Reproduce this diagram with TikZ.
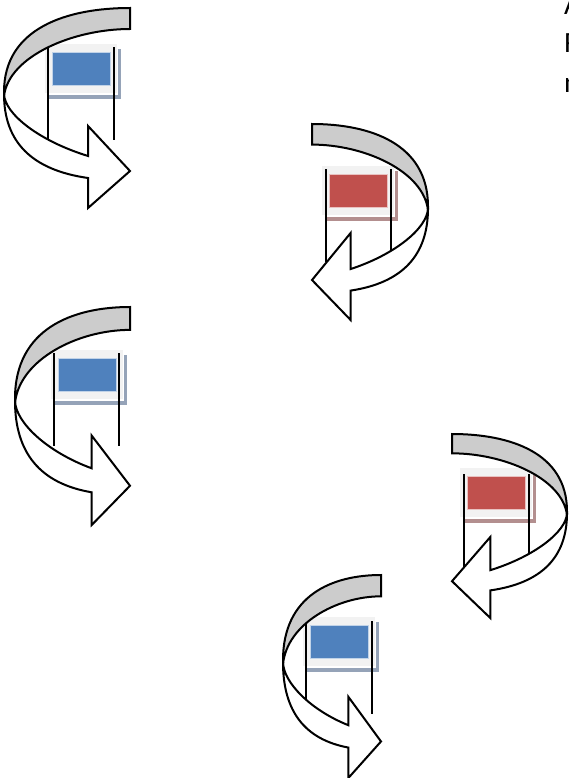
\documentclass[tikz,border=0pt]{standalone}
\usepackage{fontspec}
\setmainfont{Carlito}
\definecolor{bluefill}{HTML}{4F81BD}
\definecolor{redfill}{HTML}{C0504D}
\definecolor{blueshadow}{HTML}{95A3B8}
\definecolor{redshadow}{HTML}{B38F8F}
\definecolor{bandgray}{HTML}{CCCCCC}
\definecolor{glow}{HTML}{F2F2F2}
\tikzset{
  turnline/.style={draw=black,line width=1.5pt,line join=miter},
  postline/.style={draw=black,line width=1.4pt},
  clipped/.style={anchor=base west,inner sep=0pt,outer sep=0pt,font=\fontsize{22}{22}\selectfont},
}
% #1 shift x, #2 shift y, #3 signed width, #4 height, #5 neck top, #6 tip height
\newcommand{\turn}[6]{%
  \begin{scope}[shift={(#1,#2)},x=#3*.75pt,y=-#4*.75pt]
    \path[turnline,fill=white] (0,.43) .. controls (.005,.53) and (.28,.665) .. (.667,.74)
      -- (.667,#5) -- (1,#6) -- (.667,1) -- (.667,.85)
      .. controls (.22,.81) and (0,.67) .. (0,.43) -- cycle;
    \path[turnline,fill=bandgray] (1,0) .. controls (.5,0) and (0,.1) .. (0,.42)
      -- (0,.44) .. controls (.04,.24) and (.55,.105) .. (1,.105) -- cycle;
  \end{scope}}
% #1 left x of the fill, #2 top y, #3 fill colour, #4 shadow colour, #5 left post x, #6 right post x, #7 post top
\newcommand{\panel}[7]{%
  \begin{scope}[x=.75pt,y=-.75pt]
    \fill[#4] ({#1-4},{#2-3}) rectangle ({#1+69},{#2+47});
    \fill[white] ({#1-6},{#2-7}) rectangle ({#1+66},{#2+43});
    \fill[glow] ({#1-7},{#2-8}) rectangle ({#1+65},{#2+41});
    \path[fill=#3,draw=#3!35!white,line width=.6pt] (#1,#2) rectangle ({#1+58},{#2+33});
    \draw[postline] (#5,#7) -- (#5,{#7+93});
    \draw[postline] (#6,#7) -- (#6,{#7+93});
  \end{scope}}
\begin{document}
\begin{tikzpicture}[x=.75pt,y=-.75pt]
  \path[use as bounding box,fill=white] (0,0) rectangle (568,778);
  \clip (0,0) rectangle (568,778);
  \node[clipped] (la) at (564,14) {A};
  \node[clipped] (lb) at (564,52) {R};
  \node[clipped] (lc) at (564,92) {n};

  \panel{52}{52}{bluefill}{blueshadow}{48}{114}{47}
  \turn{4}{8}{126}{200}{.59}{.815}
  \panel{329}{174}{redfill}{redshadow}{326}{391}{169}
  \turn{428}{124}{-116}{196}{.556}{.796}
  \panel{58}{358}{bluefill}{blueshadow}{54}{119}{353}
  \turn{15}{307}{115}{218}{.59}{.82}
  \panel{467}{476}{redfill}{redshadow}{464}{529}{474}
  \turn{567}{434}{-115}{184}{.56}{.80}
  \panel{310}{625}{bluefill}{blueshadow}{306}{372}{621}
  \turn{283}{575}{98}{203}{.60}{.82}
\end{tikzpicture}
\end{document}
